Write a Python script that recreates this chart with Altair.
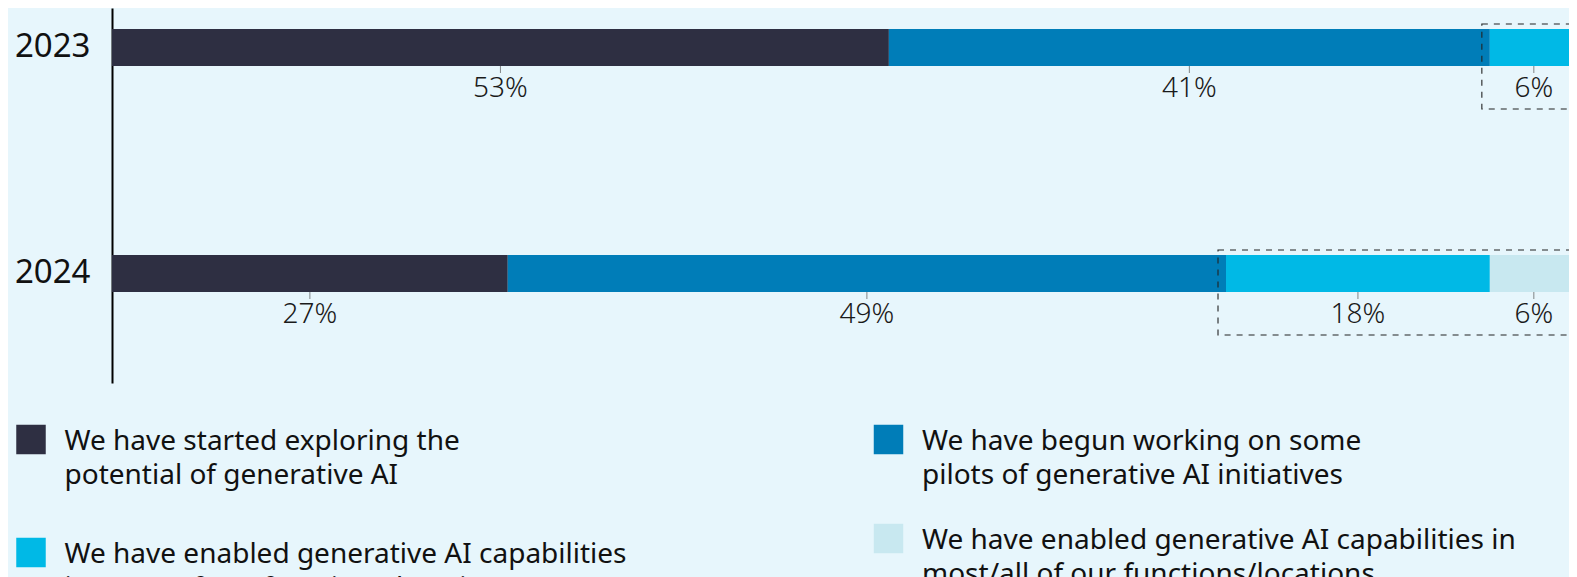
import altair as alt
import pandas as pd

years = ["2023", "2024"]
categories = [
    "We have started exploring the potential of generative AI",
    "We have begun working on some pilots of generative AI initiatives",
    "We have enabled generative AI capabilities in some of our functions/locations",
    "We have enabled generative AI capabilities in most/all of our functions/locations",
]
legend_text = [
    "We have started exploring the\npotential of generative AI",
    "We have begun working on some\npilots of generative AI initiatives",
    "We have enabled generative AI capabilities\nin some of our functions/locations",
    "We have enabled generative AI capabilities in\nmost/all of our functions/locations",
]
values_2023 = [53, 41, 6, 0]
values_2024 = [27, 49, 18, 6]
colors = ["#2E2F42", "#007DB8", "#00B9E6", "#C8E8F0"]
highlight_from = 2  # categories from this index on are boxed

BG = "#E7F6FC"
FONT = "Noto Sans"

rows = []
boxes = []
for year, vals in zip(years, [values_2023, values_2024]):
    cum = 0
    for i, (cat, v) in enumerate(zip(categories, vals)):
        if i == highlight_from:
            boxes.append({"year": year, "start": cum, "end": 100})
        if v > 0:
            rows.append({"year": year, "cat": cat, "start": cum, "end": cum + v,
                         "mid": cum + v / 2, "label": f"{v}%"})
        cum += v
df = pd.DataFrame(rows)
box_df = pd.DataFrame(boxes)

# the right end of the bars runs off the visible area, as in the reference
xscale = alt.Scale(domain=[0, 99.4], nice=False, zero=False)
yscale = alt.Scale(domain=years, paddingInner=0.651, paddingOuter=0.155, align=0)
color_scale = alt.Scale(domain=categories, range=colors)
yaxis = alt.Axis(title=None, ticks=False, grid=False, domainColor="#000000", domainWidth=2,
                 labelFontSize=33, labelColor="#111111", labelPadding=22, labelFont=FONT,
                 minExtent=104, maxExtent=104)

base = alt.Chart(df)
bars = base.mark_bar(size=37, clip=True).encode(
    x=alt.X("start:Q", scale=xscale, axis=None),
    x2="end:Q",
    y=alt.Y("year:N", scale=yscale, axis=yaxis),
    color=alt.Color("cat:N", scale=color_scale, legend=None),
)
box_layer = alt.Chart(box_df).mark_bar(
    size=85, yOffset=19, xOffset=-8, x2Offset=30, fillOpacity=0, fill="#ffffff",
    stroke="#222222", strokeDash=[6, 6], strokeWidth=1.1, clip=True,
).encode(
    x=alt.X("start:Q", scale=xscale, axis=None),
    x2="end:Q",
    y=alt.Y("year:N", scale=yscale, axis=yaxis),
)
ticks = base.mark_tick(size=7, thickness=1, yOffset=22, color="#555555").encode(
    x=alt.X("mid:Q", scale=xscale, axis=None),
    y=alt.Y("year:N", scale=yscale, axis=yaxis),
)
labels = base.mark_text(fontSize=28, dy=42, baseline="middle", color="#1a1a1a",
                        fontWeight=300, font=FONT).encode(
    x=alt.X("mid:Q", scale=xscale, axis=None),
    y=alt.Y("year:N", scale=yscale, axis=yaxis),
    text="label:N",
)
top = alt.layer(bars, box_layer, ticks, labels).properties(width=1457, height=375)


def legend_col(idx, pad, sq_x, tx_x, field):
    d = pd.DataFrame({
        "cat": [categories[i] for i in idx],
        "text": [legend_text[i] for i in idx],
        field: list(range(len(idx))),
    })
    yenc = alt.Y(f"{field}:O", scale=alt.Scale(type="point", padding=pad, align=0), axis=None)
    sq = alt.Chart(d).mark_square(size=870, opacity=1).encode(
        x=alt.value(sq_x),
        y=yenc,
        color=alt.Color("cat:N", scale=color_scale, legend=None),
    )
    tx = alt.Chart(d).mark_text(align="left", baseline="alphabetic", fontSize=28,
                                lineHeight=34.5, lineBreak="\n", dy=10,
                                color="#111111", font=FONT).encode(
        x=alt.value(tx_x),
        y=yenc,
        text="text:N",
    )
    return [sq, tx]


left_items = legend_col([0, 2], 0, -81, -47.5, "row_a")
right_items = legend_col([1, 3], 0.0707, 776.5, 810, "row_b")
legend = alt.layer(*left_items, *right_items).resolve_scale(y="independent").properties(
    width=1457, height=113
)

chart = alt.vconcat(top, legend, spacing=41.5).properties(
    padding={"left": 0, "top": 0, "right": 0, "bottom": 0}
).configure(background=BG, font=FONT).configure_view(stroke=None)

chart.save("out.html", embed_options={"renderer": "svg", "actions": False})
